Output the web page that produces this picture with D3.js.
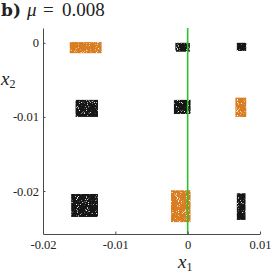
<!DOCTYPE html>
<html>
<head>
<meta charset="utf-8">
<script src="https://cdn.jsdelivr.net/npm/d3@7"></script>
<style>
  body { margin: 0; background: #fff; }
  text { font-family: "Liberation Serif", "DejaVu Serif", serif; fill: #222; }
</style>
</head>
<body>
<div id="chart"></div>
<script type="text/javascript">

      // cluster extents (x1 and x2 ranges), one entry per blob
      var kind  = ["orange", "black", "black", "black", "black", "orange", "black", "orange", "black"];
      var x1Lo  = [-0.0163, -0.0017, 0.0068, -0.0155, -0.0019, 0.0066, -0.0161, -0.0023, 0.0068];
      var x1Hi  = [-0.0119,  0.0003, 0.0081, -0.0124,  0.0004, 0.0081, -0.0124,  0.0004, 0.0080];
      var x2Lo  = [-0.0014, -0.0012, -0.0011, -0.0100, -0.0096, -0.0100, -0.0235, -0.0242, -0.0239];
      var x2Hi  = [ 0.0001,  0.0000, 0.0000, -0.0077, -0.0077, -0.0074, -0.0204, -0.0199, -0.0203];

      var xTicks = [-0.02, -0.01, 0, 0.01];
      var yTicks = [0, -0.01, -0.02];
      var xTickLabels = ["-0.02", "-0.01", "0", "0.01"];
      var yTickLabels = ["0", "-0.01", "-0.02"];
      var xDomain = [-0.02, 0.01];
      var yDomain = [-0.0258, 0.002];
      var muValue = "0.008";
      var lineX = [0]; // vertical green line at x1 = 0

      var W = 273, H = 273;
      var margin = {top: 28, right: 13, bottom: 39, left: 43};
      var w = W - margin.left - margin.right;
      var h = H - margin.top - margin.bottom;

      var x = d3.scaleLinear().domain(xDomain).range([0, w]);
      var y = d3.scaleLinear().domain(yDomain).range([h, 0]);
      var colour = d3.scaleOrdinal().domain(["orange", "black"]).range(["#d97d20", "#141414"]);

      var svg = d3.select("#chart")
                  .append("svg")
                  .attr("width", W)
                  .attr("height", H);

      // speckle texture so blobs look like point clouds
      var defs = svg.append("defs");
      var f = defs.append("filter").attr("id", "speckle")
                  .attr("x", "-5%").attr("y", "-5%").attr("width", "110%").attr("height", "110%");
      f.append("feTurbulence").attr("type", "fractalNoise").attr("baseFrequency", 1.1)
       .attr("numOctaves", 1).attr("seed", 3).attr("result", "noise");
      f.append("feColorMatrix").attr("in", "noise").attr("type", "matrix")
       .attr("values", "0 0 0 0 0  0 0 0 0 0  0 0 0 0 0  8 0 0 0 -2.1").attr("result", "mask");
      f.append("feComposite").attr("in", "SourceGraphic").attr("in2", "mask").attr("operator", "in");

      var g = svg.append("g").attr("transform", "translate(" + margin.left + "," + margin.top + ")");

      var blobs = d3.range(kind.length);
      g.selectAll("rect.blob")
       .data(blobs)
       .enter()
       .append("rect")
       .attr("class", "blob")
       .attr("x", function(i) { return x(x1Lo[i]); })
       .attr("y", function(i) { return y(x2Hi[i]); })
       .attr("width", function(i) { return x(x1Hi[i]) - x(x1Lo[i]); })
       .attr("height", function(i) { return y(x2Lo[i]) - y(x2Hi[i]); })
       .attr("fill", function(i) { return colour(kind[i]); })
       .attr("filter", "url(#speckle)");

      g.selectAll("line.vline")
       .data(lineX)
       .enter()
       .append("line")
       .attr("x1", function(d) { return x(d); })
       .attr("x2", function(d) { return x(d); })
       .attr("y1", 0)
       .attr("y2", h)
       .attr("stroke", "#2fc12f")
       .attr("stroke-width", 1.6);

      var xAxis = d3.axisBottom(x).tickValues(xTicks)
                    .tickFormat(function(d, i) { return xTickLabels[i]; })
                    .tickSizeInner(-2.5).tickSizeOuter(0).tickPadding(6);
      var yAxis = d3.axisLeft(y).tickValues(yTicks)
                    .tickFormat(function(d, i) { return yTickLabels[i]; })
                    .tickSizeInner(-2.5).tickSizeOuter(0).tickPadding(4);

      var gx = g.append("g").attr("transform", "translate(0," + h + ")").call(xAxis);
      var gy = g.append("g").call(yAxis);
      [gx, gy].forEach(function(a) {
        a.select(".domain").attr("stroke", "#4a4a4a");
        a.selectAll(".tick line").attr("stroke", "#4a4a4a");
        a.selectAll(".tick text").attr("font-family", "Liberation Serif").attr("font-size", 12.5).attr("fill", "#222");
      });

      // title  b) mu = 0.008
      var t = svg.append("text").attr("y", 16).attr("font-size", 19);
      t.append("tspan").attr("x", 1).attr("font-weight", "bold").attr("font-family", "DejaVu Serif").attr("font-size", 17).text("b)");
      t.append("tspan").attr("x", 27).attr("font-style", "italic").text("\u03bc");
      t.append("tspan").attr("x", 43).text("=");
      t.append("tspan").attr("x", 62).text(muValue);

      // axis labels
      var xl = svg.append("text").attr("x", 178).attr("y", 268)
                  .attr("font-family", "Liberation Serif").attr("font-size", 19);
      xl.append("tspan").attr("font-style", "italic").text("x");
      xl.append("tspan").attr("font-size", 12).attr("dy", 3).text("1");

      var yl = svg.append("text").attr("x", 1).attr("y", 85)
                  .attr("font-family", "Liberation Serif").attr("font-size", 19);
      yl.append("tspan").attr("font-style", "italic").text("x");
      yl.append("tspan").attr("font-size", 12).attr("dy", 3).text("2");

</script>
</body>
</html>
